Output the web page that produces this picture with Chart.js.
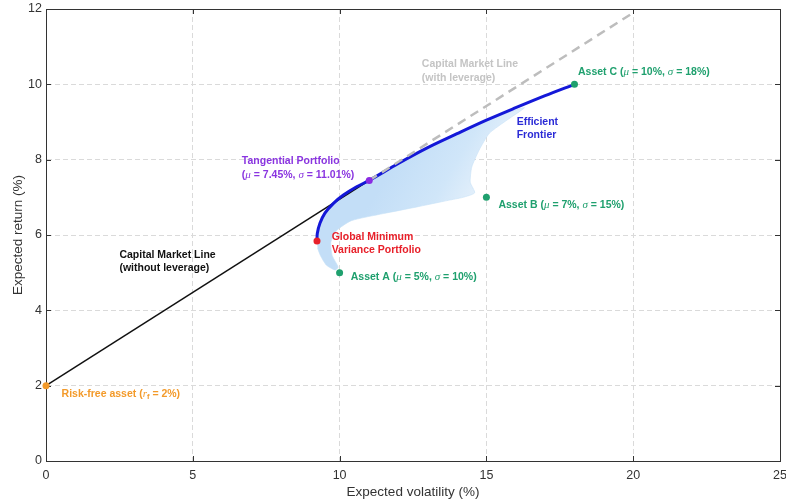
<!DOCTYPE html>
<html lang="en">
<head>
<meta charset="UTF-8">
<title>Efficient Frontier and Capital Market Line</title>
<script src="https://cdn.jsdelivr.net/npm/chart.js"></script>
<style>
  html, body { margin: 0; padding: 0; background: #fff; }
  #wrap { width: 786px; height: 504px; }
</style>
</head>
<body>
<div id="wrap"><canvas id="chart" width="786" height="504"></canvas></div>
<script>
// all values in %: x = expected volatility, y = expected return
const xTicks = [0, 5, 10, 15, 20, 25];
const yTicks = [0, 2, 4, 6, 8, 10, 12];

// risk-free, min variance, tangency, assets A/B/C
const markX = [0, 9.23, 11.01, 10, 15, 18];
const markY = [2, 5.84, 7.45, 5, 7, 10];
const markColors = ['#f39a2a', '#e8202a', '#8a2be2', '#1fa06e', '#1fa06e', '#1fa06e'];

// efficient frontier (upper branch, min variance -> asset C)
const frontierX = [9.23, 9.24, 9.33, 9.5, 9.79, 10.13, 10.58, 11.01, 12, 13, 14, 15, 16, 17, 18];
const frontierY = [5.84, 6.04, 6.31, 6.58, 6.84, 7.06, 7.28, 7.45, 7.9, 8.32, 8.69, 9.05, 9.38, 9.7, 10];

// outline of the simulated portfolio cloud
const cloudX = [9.23, 9.24, 9.33, 9.5, 9.79, 10.13, 10.58, 11.01, 12, 13, 14, 15, 15.8, 16.3,
                15.7, 15.1, 14.75, 14.5, 14.45, 14.6, 14.2, 13.7, 12.6, 11.5, 10.4, 9.9,
                9.7, 9.75, 9.95, 9.85, 9.55, 9.35, 9.25];
const cloudY = [5.84, 6.04, 6.31, 6.58, 6.84, 7.06, 7.28, 7.45, 7.88, 8.3, 8.66, 9.02, 9.27, 9.38,
                9.05, 8.7, 8.25, 7.8, 7.4, 7.12, 7.0, 6.92, 6.74, 6.57, 6.38, 6.12,
                5.8, 5.45, 5.15, 5.07, 5.2, 5.45, 5.65];

// capital market line: lending part and leveraged part
const cmlX = [0, 11.01];
const cmlY = [2, 7.45];
const cmlLevX = [11.01, 20];
const cmlLevY = [7.45, 11.9];

const pts = (xs, ys) => xs.map((x, i) => ({ x, y: ys[i] }));

const FONT = '"Liberation Sans", Arial, sans-serif';

// text labels, *..* = italic symbol, _x = subscript
const notes = [
  { x: 6.67, y: 7.95, color: '#8a35e0', lines: ['Tangential Portfolio', '(*μ* = 7.45%, *σ* = 11.01%)'] },
  { x: 9.73, y: 5.95, color: '#e8202a', lines: ['Global Minimum', 'Variance Portfolio'] },
  { x: 10.38, y: 4.88, color: '#1fa06e', lines: ['Asset A (*μ* = 5%, *σ* = 10%)'] },
  { x: 15.41, y: 6.8, color: '#1fa06e', lines: ['Asset B (*μ* = 7%, *σ* = 15%)'] },
  { x: 18.12, y: 10.32, color: '#1fa06e', lines: ['Asset C (*μ* = 10%, *σ* = 18%)'] },
  { x: 16.03, y: 9.01, color: '#2a2ad6', lines: ['Efficient', 'Frontier'] },
  { x: 12.8, y: 10.53, color: '#c4c4c4', lines: ['Capital Market Line', '(with leverage)'] },
  { x: 2.5, y: 5.47, color: '#111', lines: ['Capital Market Line', '(without leverage)'] },
  { x: 0.53, y: 1.78, color: '#f39a2a', lines: ['Risk-free asset (*r*_f = 2%)'] }
];

function drawRich(ctx, text, x, y, color) {
  const parts = text.split(/(\*[^*]+\*|_\w)/).filter(s => s);
  let cx = x;
  ctx.fillStyle = color;
  for (const p of parts) {
    let s = p, dy = 0;
    ctx.font = `bold 10.5px ${FONT}`;
    if (p[0] === '*') {
      s = p.slice(1, -1);
      ctx.font = `italic 11px "Liberation Serif", serif`;
    } else if (p[0] === '_') {
      s = p.slice(1);
      ctx.font = `bold 7.5px ${FONT}`;
      dy = 3;
    }
    ctx.fillText(s, cx, y + dy);
    cx += ctx.measureText(s).width;
  }
}

const notesPlugin = {
  id: 'notes',
  afterDatasetsDraw(chart) {
    const { ctx, scales: { x, y } } = chart;
    ctx.save();
    ctx.textBaseline = 'middle';
    ctx.textAlign = 'left';
    for (const n of notes) {
      const px = x.getPixelForValue(n.x);
      const py = y.getPixelForValue(n.y);
      n.lines.forEach((line, i) => drawRich(ctx, line, px, py + i * 13.5, n.color));
    }
    ctx.restore();
  }
};

// box around the plot with inward tick marks on all sides
const framePlugin = {
  id: 'frame',
  beforeDatasetsDraw(chart) {
    const { ctx, chartArea: a, scales: { x, y } } = chart;
    ctx.save();
    ctx.strokeStyle = '#333';
    ctx.lineWidth = 1;
    ctx.strokeRect(a.left + 0.5, a.top + 0.5, a.right - a.left, a.bottom - a.top);
    ctx.beginPath();
    for (const v of xTicks) {
      const px = Math.round(x.getPixelForValue(v)) + 0.5;
      ctx.moveTo(px, a.bottom); ctx.lineTo(px, a.bottom - 5);
      ctx.moveTo(px, a.top); ctx.lineTo(px, a.top + 5);
    }
    for (const v of yTicks) {
      const py = Math.round(y.getPixelForValue(v)) + 0.5;
      ctx.moveTo(a.left, py); ctx.lineTo(a.left + 5, py);
      ctx.moveTo(a.right, py); ctx.lineTo(a.right - 5, py);
    }
    ctx.stroke();
    ctx.restore();
  }
};

// cloud is densest along the frontier and thins out towards the lower right
function cloudFill(context) {
  const { chart } = context;
  const { ctx, scales: { x, y } } = chart;
  if (!x || !y || !chart.chartArea) return '#c6e1f7';
  const g = ctx.createLinearGradient(
    x.getPixelForValue(12), y.getPixelForValue(8.1),
    x.getPixelForValue(14.6), y.getPixelForValue(6.9));
  g.addColorStop(0, '#c3def7');
  g.addColorStop(0.6, '#d0e6f9');
  g.addColorStop(1, '#e4f0fb');
  return g;
}

new Chart(document.getElementById('chart'), {
  type: 'scatter',
  data: {
    datasets: [
      {
        label: 'Markers',
        data: pts(markX, markY),
        pointRadius: 3.5,
        pointBackgroundColor: markColors,
        pointBorderColor: markColors,
        pointBorderWidth: 0,
        showLine: false,
        clip: false,
        order: 1
      },
      {
        label: 'CML (with leverage)',
        data: pts(cmlLevX, cmlLevY),
        showLine: true,
        borderColor: '#bdbdbd',
        borderWidth: 2.5,
        borderDash: [9, 6],
        pointRadius: 0,
        order: 3
      },
      {
        label: 'Efficient Frontier',
        data: pts(frontierX, frontierY),
        showLine: true,
        borderColor: '#1418d8',
        borderWidth: 3,
        tension: 0.3,
        pointRadius: 0,
        order: 4
      },
      {
        label: 'CML (without leverage)',
        data: pts(cmlX, cmlY),
        showLine: true,
        borderColor: '#111',
        borderWidth: 1.5,
        pointRadius: 0,
        order: 5
      },
      {
        label: 'Portfolios',
        data: pts(cloudX, cloudY),
        showLine: true,
        fill: 'shape',
        backgroundColor: cloudFill,
        borderColor: 'rgba(198,225,247,0.6)',
        borderWidth: 1,
        tension: 0.2,
        pointRadius: 0,
        order: 8
      }
    ]
  },
  options: {
    responsive: false,
    devicePixelRatio: 1,
    animation: false,
    layout: { padding: { top: 9, right: 6, left: 0, bottom: 0 }, autoPadding: false },
    plugins: { legend: { display: false }, tooltip: { enabled: false } },
    scales: {
      x: {
        type: 'linear',
        min: 0, max: 25,
        afterBuildTicks: s => { s.ticks = xTicks.map(v => ({ value: v })); },
        afterFit: s => { s.height = 43; s.paddingLeft = 0; s.paddingRight = 0; },
        ticks: { color: '#333', font: { family: FONT, size: 12.5 }, padding: 7, maxRotation: 0 },
        grid: { color: '#dadada', drawTicks: false },
        border: { display: true, color: '#333', dash: [5, 3] },
        title: { display: true, text: 'Expected volatility (%)', color: '#333',
                 font: { family: FONT, size: 13.5 }, padding: { top: 0, bottom: 4 } }
      },
      y: {
        type: 'linear',
        min: 0, max: 12,
        afterBuildTicks: s => { s.ticks = yTicks.map(v => ({ value: v })); },
        afterFit: s => { s.width = 46; s.paddingTop = 0; s.paddingBottom = 0; },
        ticks: { color: '#333', font: { family: FONT, size: 12.5 }, padding: 4 },
        grid: { color: '#dadada', drawTicks: false },
        border: { display: true, color: '#333', dash: [5, 3] },
        title: { display: true, text: 'Expected return (%)', color: '#333',
                 font: { family: FONT, size: 13.5 }, padding: { top: 10, bottom: 0 } }
      }
    }
  },
  plugins: [framePlugin, notesPlugin]
});
</script>
</body>
</html>
